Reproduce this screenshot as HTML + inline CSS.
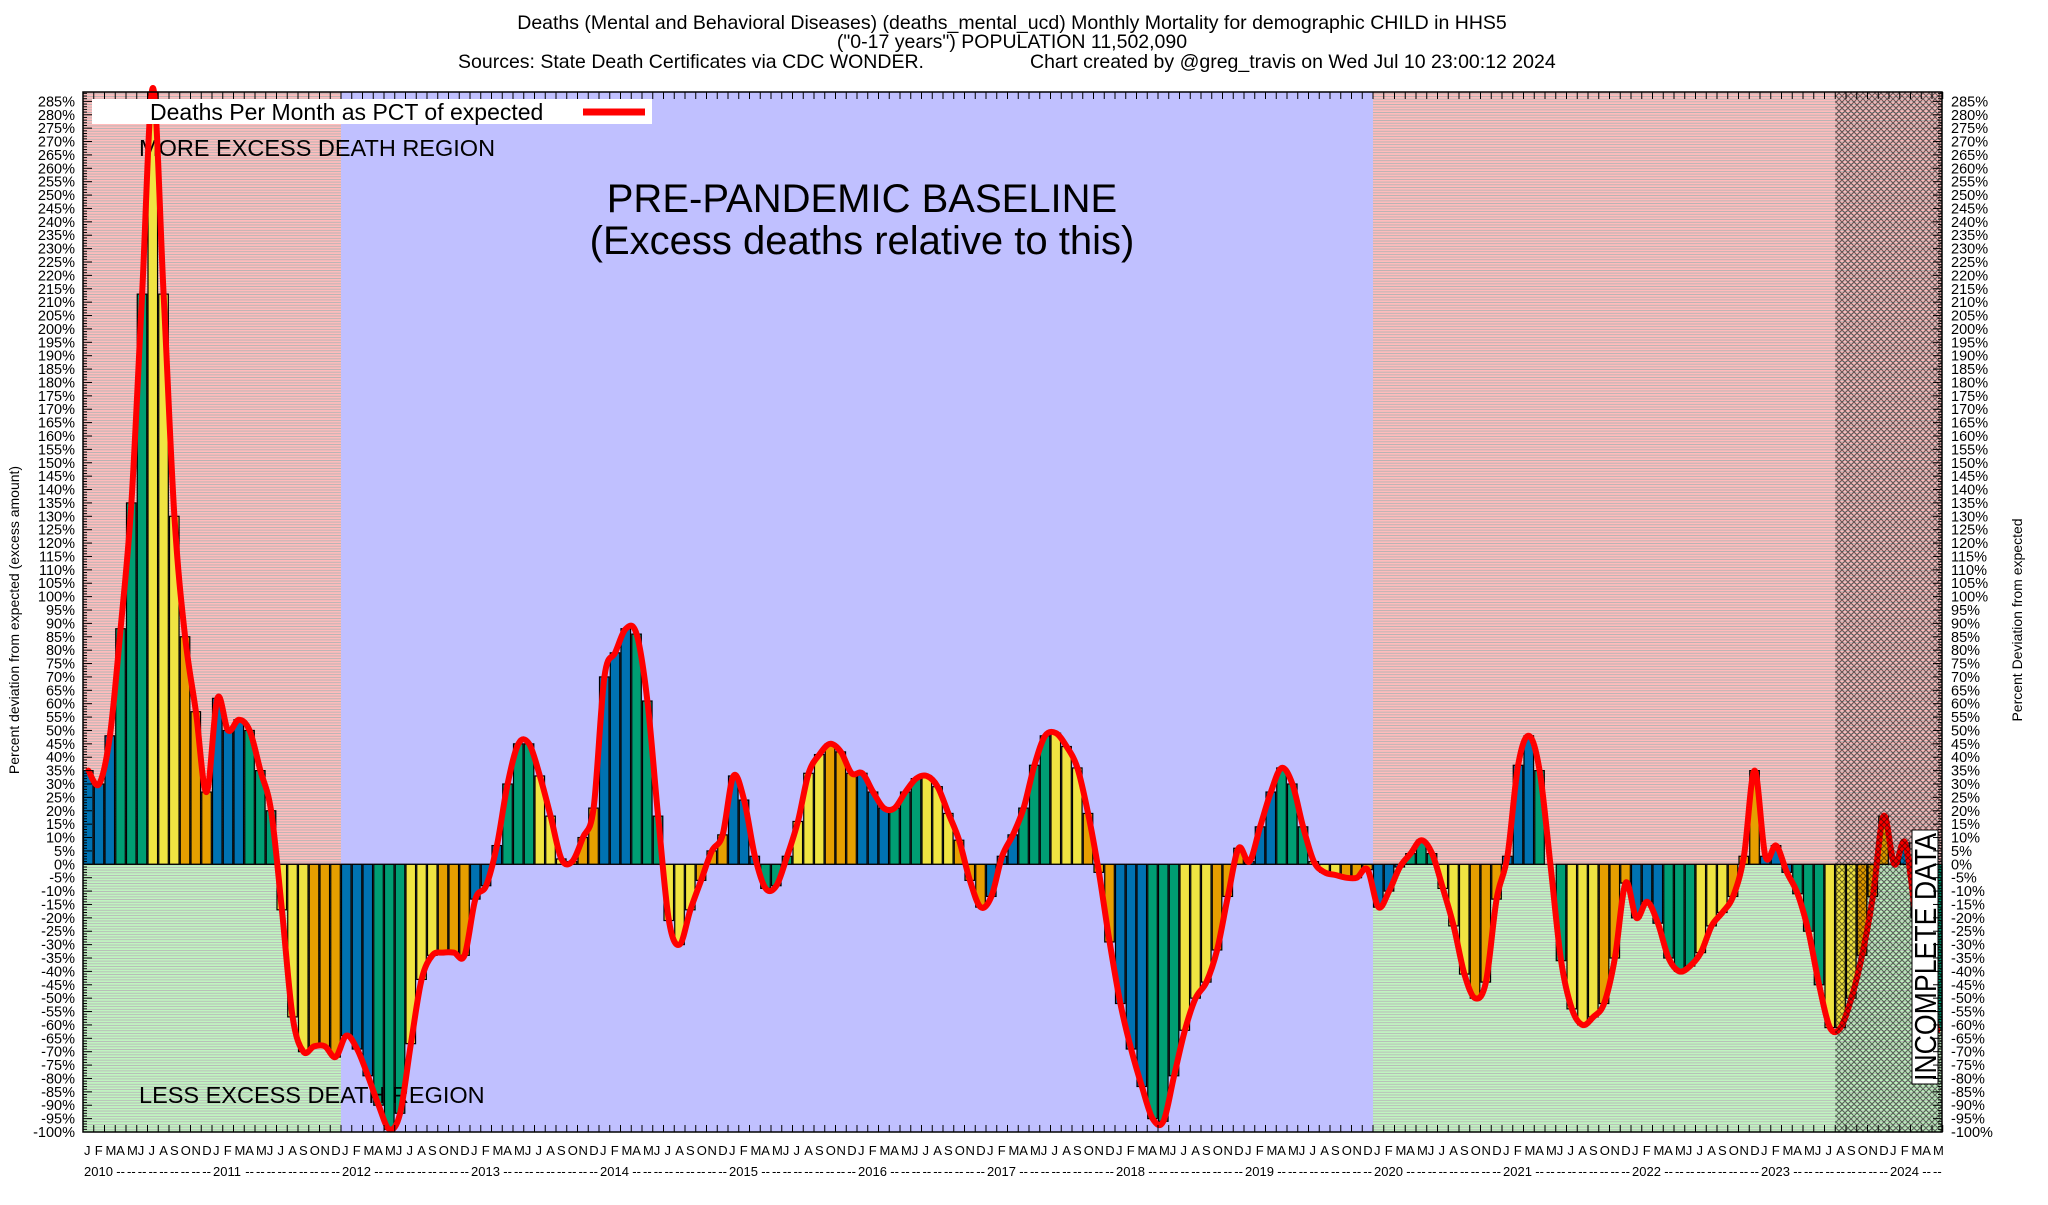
<!DOCTYPE html>
<html>
<head>
<meta charset="utf-8">
<style>
  html,body{margin:0;padding:0;background:#fff;}
  body{width:2048px;height:1200px;overflow:hidden;font-family:"Liberation Sans",sans-serif;}
  svg text{font-family:"Liberation Sans",sans-serif;}
</style>
</head>
<body>
<svg id="chart" width="2048" height="1200" viewBox="0 0 2048 1200" xmlns="http://www.w3.org/2000/svg">
  <defs>
    <pattern id="stripesRed" width="8" height="2.677" patternUnits="userSpaceOnUse" y="864.3">
      <rect width="8" height="2.677" fill="#ffbcbc"/>
      <rect width="8" height="0.9" fill="#b4b4b4"/>
    </pattern>
    <pattern id="stripesGreen" width="8" height="2.677" patternUnits="userSpaceOnUse" y="864.3">
      <rect width="8" height="2.677" fill="#c0f4c0"/>
      <rect width="8" height="0.9" fill="#b8b8b8"/>
    </pattern>
    <pattern id="hatch" width="6" height="6" patternUnits="userSpaceOnUse">
      <path d="M0,0 L6,6 M6,0 L0,6" stroke="#000" stroke-width="1.1" fill="none"/>
    </pattern>
  </defs>
  <g id="titles">
    <text x="1012" y="29" font-size="19.5" text-anchor="middle">Deaths (Mental and Behavioral Diseases) (deaths_mental_ucd) Monthly Mortality for demographic CHILD in HHS5</text>
    <text x="1012" y="48" font-size="19.5" text-anchor="middle">("0-17 years") POPULATION 11,502,090</text>
    <text x="458" y="68" font-size="19.5">Sources: State Death Certificates via CDC WONDER.</text>
    <text x="1030" y="68" font-size="19.5">Chart created by @greg_travis on Wed Jul 10 23:00:12 2024</text>
  </g>
  <g id="bg"></g>
  <g id="bars"></g>
  <g id="annot"></g>
  <g id="line"></g>
  <g id="hatchg"></g>
  <g id="axes"></g>
  <g id="labels"></g>
</svg>
<script>
const monthLetters = ["J","F","M","A","M","J","J","A","S","O","N","D"];
const startYear = 2010;
const values = [
  35,30,48,88,135,213,290,213,130,85,57,27,
  62,50,54,50,35,20,-17,-57,-70,-68,-68,-72,
  -64,-69,-79,-90,-99,-93,-67,-43,-34,-33,-33,-34,
  -13,-8,7,30,45,45,33,18,2,1,10,21,
  70,79,88,86,61,18,-21,-30,-17,-6,5,11,
  33,24,3,-9,-8,3,16,34,41,45,42,34,
  34,27,21,21,27,32,33,29,19,9,-6,-16,
  -12,3,11,21,37,48,49,44,36,19,-3,-29,
  -52,-69,-83,-95,-96,-79,-62,-50,-44,-32,-12,6,
  1,14,27,36,30,14,1,-3,-4,-5,-5,-2,
  -16,-10,-1,4,9,4,-9,-23,-41,-50,-44,-13,
  3,37,48,35,0,-36,-54,-60,-57,-52,-35,-7,
  -20,-14,-22,-35,-40,-38,-33,-23,-18,-12,3,35,
  3,7,-3,-11,-25,-45,-61,-61,-50,-34,-12,18,
  0,8,-20,-45,-62
];
const yTicks = [];
for (let v = -100; v <= 285; v += 5) yTicks.push(v);
const baselineStart = 24, baselineEnd = 120, incompleteStart = 163;
const yMin = -100, yMax = 288.5;

const NS = "http://www.w3.org/2000/svg";
const L = 83, R = 1942, T = 92, B = 1132;
const slotW = 10.75;
const nSlots = values.length;
function xS(i){ return L + i*slotW; }
function yS(v){ return B - (v - yMin) * (B - T) / (yMax - yMin); }
function mk(tag, attrs, parent){
  const e = document.createElementNS(NS, tag);
  for (const k in attrs) e.setAttribute(k, attrs[k]);
  parent.appendChild(e);
  return e;
}
const y0 = yS(0);

const bg = document.getElementById('bg');
function region(x1, x2, kind){
  if (kind === 'baseline'){
    const r = mk('rect',{x:x1,y:T,width:x2-x1,height:B-T,fill:'#c0c0ff'},bg);
    
    
  } else {
    const r1 = mk('rect',{x:x1,y:T,width:x2-x1,height:y0-T,fill:'url(#stripesRed)'},bg);
    
    
    const r2 = mk('rect',{x:x1,y:y0,width:x2-x1,height:B-y0,fill:'url(#stripesGreen)'},bg);
    
    
  }
}
region(xS(0), xS(baselineStart), 'other');
region(xS(baselineStart), xS(baselineEnd), 'baseline');
region(xS(baselineEnd), R, 'other');

const barColors = ["#0072b2","#0072b2","#0072b2","#009e73","#009e73","#009e73","#f0e442","#f0e442","#f0e442","#e69f00","#e69f00","#e69f00"];
const bars = document.getElementById('bars');
values.forEach((v,i)=>{
  const yv = yS(v);
  const top = Math.max(Math.min(yv,y0), T);
  const h = Math.abs(Math.max(yv,T) - y0);
  const r = mk('rect',{x:xS(i)+0.5,y:top,width:slotW-1.2,height:h,fill:barColors[i%12],stroke:'#000','stroke-width':1.2},bars);
  
  
});
mk('line',{x1:L,y1:y0,x2:R,y2:y0,stroke:'#000','stroke-width':1},bars);

const an = document.getElementById('annot');
let t = mk('text',{x:139,y:156,'font-size':23.5},an); t.textContent='MORE EXCESS DEATH REGION';
 
t = mk('text',{x:139,y:1103,'font-size':23.5},an); t.textContent='LESS EXCESS DEATH REGION';
 
t = mk('text',{x:862,y:212,'font-size':40,'text-anchor':'middle'},an); t.textContent='PRE-PANDEMIC BASELINE';
 
t = mk('text',{x:862,y:254,'font-size':40,'text-anchor':'middle'},an); t.textContent='(Excess deaths relative to this)';
 

const pts = values.map((v,i)=>[xS(i)+slotW/2, yS(v)]);
let d = 'M'+pts[0][0]+','+pts[0][1];
for (let i=0;i<pts.length-1;i++){
  const p0=pts[Math.max(0,i-1)], p1=pts[i], p2=pts[i+1], p3=pts[Math.min(pts.length-1,i+2)];
  const c1=[p1[0]+(p2[0]-p0[0])/6, p1[1]+(p2[1]-p0[1])/6];
  const c2=[p2[0]-(p3[0]-p1[0])/6, p2[1]-(p3[1]-p1[1])/6];
  d += ' C'+c1[0].toFixed(1)+','+c1[1].toFixed(1)+' '+c2[0].toFixed(1)+','+c2[1].toFixed(1)+' '+p2[0].toFixed(1)+','+p2[1].toFixed(1);
}
const ln = mk('path',{d:d,fill:'none',stroke:'#ff0000','stroke-width':6,'stroke-linejoin':'round','stroke-linecap':'round'},document.getElementById('line'));



const hg = document.getElementById('hatchg');
const hr = mk('rect',{x:xS(incompleteStart),y:T,width:R-xS(incompleteStart),height:B-T,fill:'url(#hatch)',opacity:0.55},hg);


const ib = mk('rect',{x:1912,y:830,width:26,height:254,fill:'#fff',stroke:'#000','stroke-width':1},hg);


t = mk('text',{x:0,y:0,'font-size':31,transform:'translate(1936,1081) rotate(-90)',textLength:248,lengthAdjust:'spacingAndGlyphs'},hg);
t.textContent='INCOMPLETE DATA';
 

const ax = document.getElementById('axes');
const frame = mk('rect',{x:L,y:T,width:R-L,height:B-T,fill:'none',stroke:'#000','stroke-width':1.5},ax);


for (let v=-100; v<=288; v++){
  const y=yS(v), len=(v%5===0)?9:4;
  mk('line',{x1:L,y1:y,x2:L+len,y2:y,stroke:'#000','stroke-width':1},ax);
  mk('line',{x1:R,y1:y,x2:R-len,y2:y,stroke:'#000','stroke-width':1},ax);
}
for (let i=0;i<=nSlots;i++){
  const x=xS(i);
  mk('line',{x1:x,y1:B,x2:x,y2:B-7,stroke:'#000','stroke-width':1},ax);
  mk('line',{x1:x,y1:T,x2:x,y2:T+7,stroke:'#000','stroke-width':1},ax);
}

const lb = document.getElementById('labels');
yTicks.forEach(v=>{
  const y=yS(v)+5;
  let a = mk('text',{x:75,y:y,'font-size':14.5,'text-anchor':'end'},lb); a.textContent=v+'%';
   
  let b = mk('text',{x:1951,y:y,'font-size':14.5},lb); b.textContent=v+'%';
   
});
for (let i=0;i<nSlots;i++){
  let m = mk('text',{x:xS(i)+1,y:1155,'font-size':13},lb); m.textContent=monthLetters[i%12];
   
  const mi=i%12;
  if (mi===0){
    let yy = mk('text',{x:xS(i)+1,y:1176,'font-size':13},lb); yy.textContent=String(startYear+Math.floor(i/12));
     
  } else if (mi>2){
    let dd = mk('text',{x:xS(i)+1,y:1176,'font-size':13},lb); dd.textContent='--';
     
  }
}
t = mk('text',{x:0,y:0,'font-size':14,'text-anchor':'middle',transform:'translate(19,620) rotate(-90)'},lb);
t.textContent='Percent deviation from expected (excess amount)';
 
t = mk('text',{x:0,y:0,'font-size':14,'text-anchor':'middle',transform:'translate(2022,620) rotate(-90)'},lb);
t.textContent='Percent Deviation from expected';
 

const lg = mk('g',{},lb);


mk('rect',{x:92,y:99,width:560,height:25,fill:'#fff'},lg);
t = mk('text',{x:150,y:120,'font-size':23},lg); t.textContent='Deaths Per Month as PCT of expected';
 
const ls = mk('line',{x1:583,y1:112,x2:645,y2:112,stroke:'#ff0000','stroke-width':7},lg);


</script>
</body>
</html>
